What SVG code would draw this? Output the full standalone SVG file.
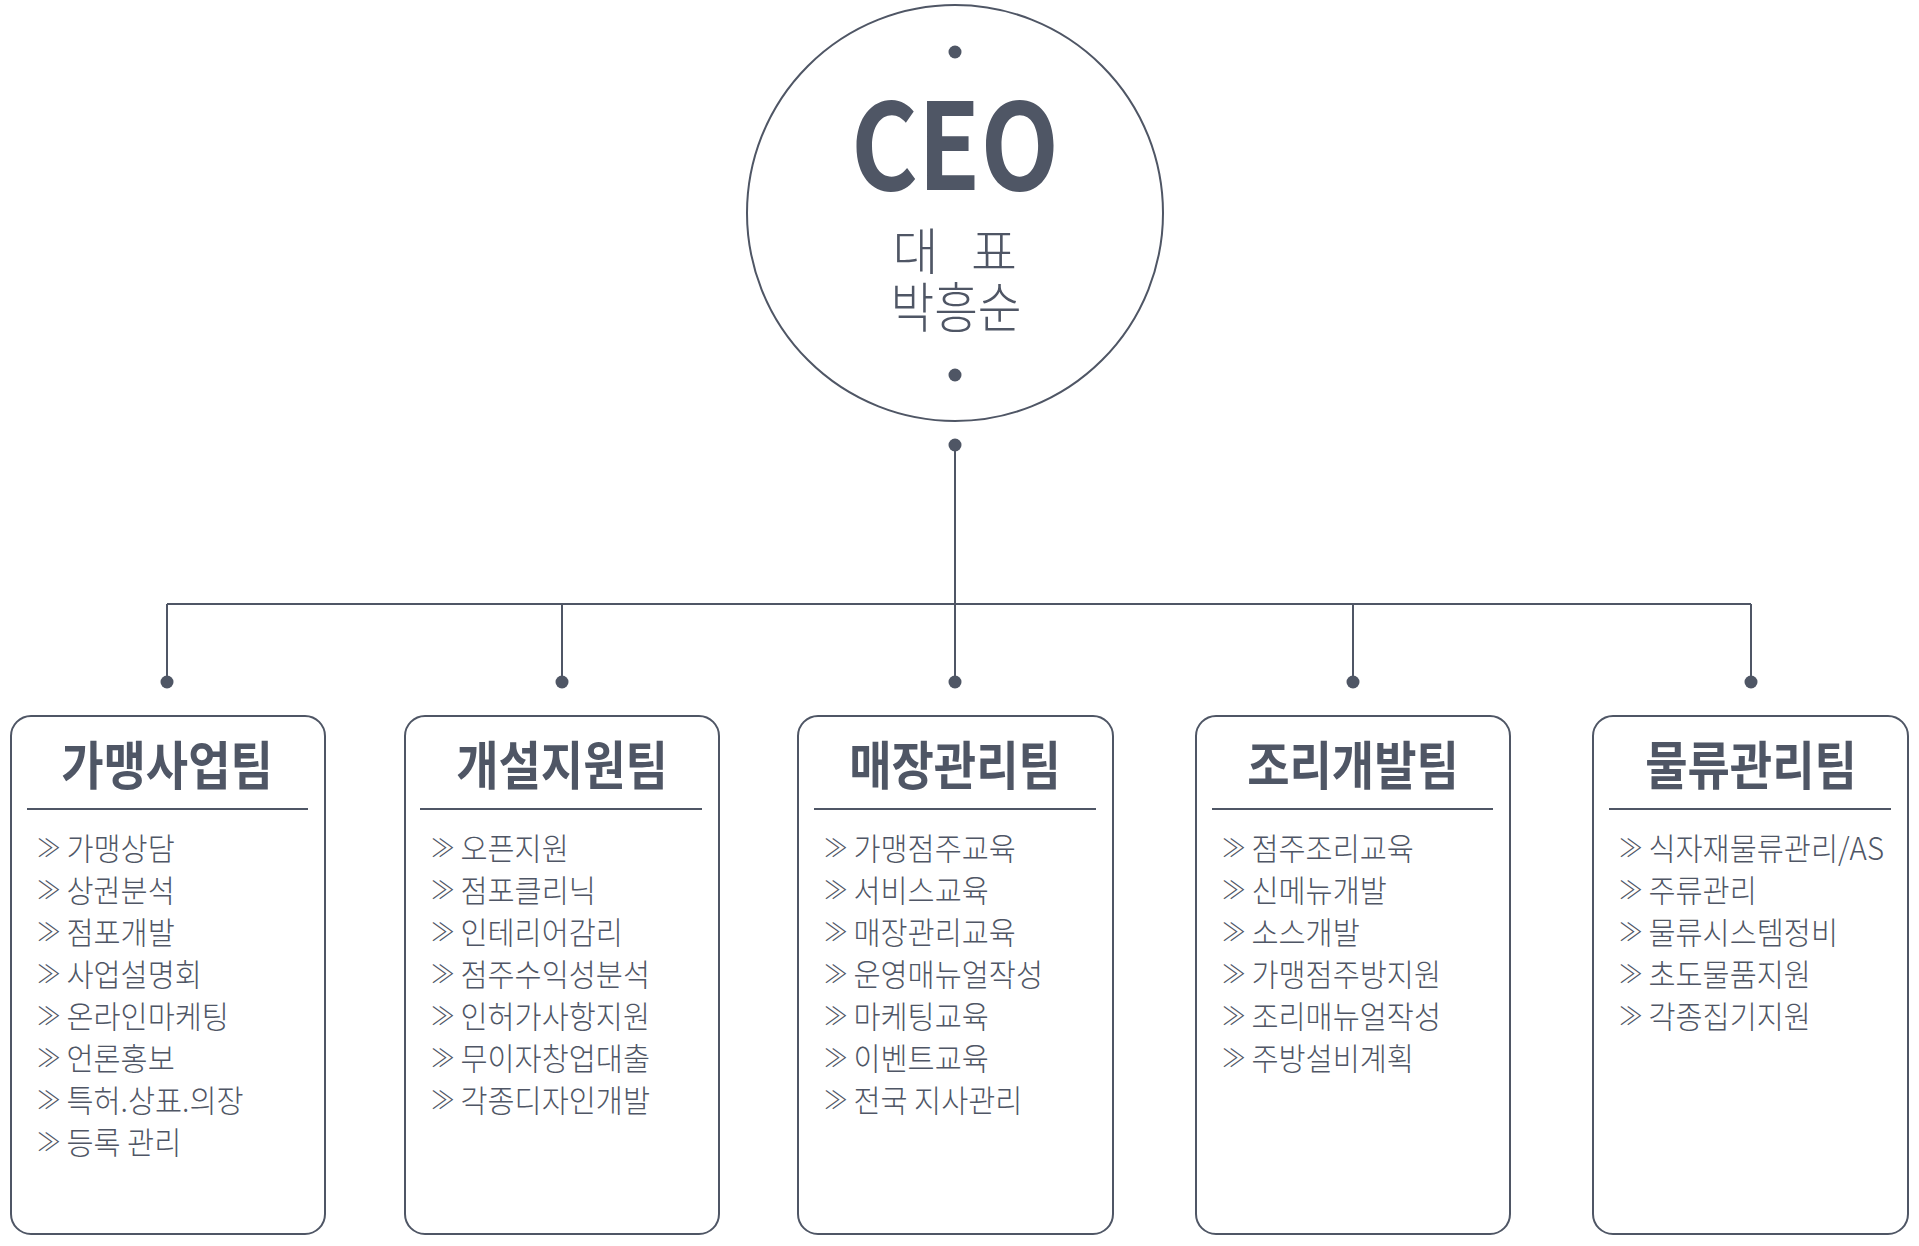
<svg xmlns="http://www.w3.org/2000/svg" width="1919" height="1246" viewBox="0 0 1919 1246">
<style>
.ln{fill:none;stroke:#4f5665;stroke-width:2}
.dot{fill:#4f5665}
.box{fill:#fff;stroke:#4f5665;stroke-width:2}
.title{font-family:"Noto Sans CJK KR","Noto Sans",sans-serif;font-weight:700;font-size:52px;fill:#4f5665;text-anchor:middle}
.item{font-family:"Noto Sans CJK KR","Noto Sans",sans-serif;font-weight:300;font-size:31px;fill:#4f5665}
.ch{font-size:25px}
.ceo{font-family:"Noto Sans CJK KR","Noto Sans",sans-serif;font-weight:700;font-size:120px;fill:#4f5665;text-anchor:middle}
.sub{font-family:"Noto Sans CJK KR","Noto Sans",sans-serif;font-weight:300;fill:#4f5665;text-anchor:middle}
</style>
<rect width="1919" height="1246" fill="#fff"/>
<g id="connectors">
<line class="ln" x1="955" y1="445" x2="955" y2="682"/>
<line class="ln" x1="167" y1="604" x2="1751" y2="604"/>
<line class="ln" x1="167" y1="604" x2="167" y2="682"/>
<line class="ln" x1="562" y1="604" x2="562" y2="682"/>
<line class="ln" x1="1353" y1="604" x2="1353" y2="682"/>
<line class="ln" x1="1751" y1="604" x2="1751" y2="682"/>
<circle class="dot" cx="955" cy="445" r="6.5"/>
<circle class="dot" cx="167" cy="682" r="6.5"/>
<circle class="dot" cx="562" cy="682" r="6.5"/>
<circle class="dot" cx="955" cy="682" r="6.5"/>
<circle class="dot" cx="1353" cy="682" r="6.5"/>
<circle class="dot" cx="1751" cy="682" r="6.5"/>
</g>
<g id="ceo">
<circle cx="955" cy="213" r="208" fill="#fff" stroke="#4f5665" stroke-width="2"/>
<circle class="dot" cx="955" cy="52" r="6.5"/>
<circle class="dot" cx="955" cy="375" r="6.5"/>
<text class="ceo" transform="translate(955,190) scale(0.85,1)" x="0" y="0">CEO</text>
<text class="sub" font-size="50" x="921" y="270"><tspan x="921">대</tspan> <tspan x="994">표</tspan></text>
<text class="sub" font-size="54" transform="translate(956,328) scale(0.88,1)" x="0" y="0">박흥순</text>
</g>
<g id="team1">
<rect class="box" x="11" y="716" width="314" height="518" rx="20"/>
<text class="title" transform="translate(167,785) scale(0.885,1)" x="0" y="0">가맹사업팀</text>
<line class="ln" x1="27" y1="809" x2="308" y2="809"/>
<text class="item" transform="translate(37,860) scale(0.95,1)"><tspan class="ch" x="0" y="-3">≫</tspan><tspan dx="6" y="0">가맹상담</tspan><tspan class="ch" x="0" y="39">≫</tspan><tspan dx="6" y="42">상권분석</tspan><tspan class="ch" x="0" y="81">≫</tspan><tspan dx="6" y="84">점포개발</tspan><tspan class="ch" x="0" y="123">≫</tspan><tspan dx="6" y="126">사업설명회</tspan><tspan class="ch" x="0" y="165">≫</tspan><tspan dx="6" y="168">온라인마케팅</tspan><tspan class="ch" x="0" y="207">≫</tspan><tspan dx="6" y="210">언론홍보</tspan><tspan class="ch" x="0" y="249">≫</tspan><tspan dx="6" y="252">특허.상표.의장</tspan><tspan class="ch" x="0" y="291">≫</tspan><tspan dx="6" y="294">등록 관리</tspan></text>
</g>
<g id="team2">
<rect class="box" x="405" y="716" width="314" height="518" rx="20"/>
<text class="title" transform="translate(562,785) scale(0.885,1)" x="0" y="0">개설지원팀</text>
<line class="ln" x1="420" y1="809" x2="702" y2="809"/>
<text class="item" transform="translate(431,860) scale(0.95,1)"><tspan class="ch" x="0" y="-3">≫</tspan><tspan dx="6" y="0">오픈지원</tspan><tspan class="ch" x="0" y="39">≫</tspan><tspan dx="6" y="42">점포클리닉</tspan><tspan class="ch" x="0" y="81">≫</tspan><tspan dx="6" y="84">인테리어감리</tspan><tspan class="ch" x="0" y="123">≫</tspan><tspan dx="6" y="126">점주수익성분석</tspan><tspan class="ch" x="0" y="165">≫</tspan><tspan dx="6" y="168">인허가사항지원</tspan><tspan class="ch" x="0" y="207">≫</tspan><tspan dx="6" y="210">무이자창업대출</tspan><tspan class="ch" x="0" y="249">≫</tspan><tspan dx="6" y="252">각종디자인개발</tspan></text>
</g>
<g id="team3">
<rect class="box" x="798" y="716" width="315" height="518" rx="20"/>
<text class="title" transform="translate(955,785) scale(0.885,1)" x="0" y="0">매장관리팀</text>
<line class="ln" x1="814" y1="809" x2="1096" y2="809"/>
<text class="item" transform="translate(824,860) scale(0.95,1)"><tspan class="ch" x="0" y="-3">≫</tspan><tspan dx="6" y="0">가맹점주교육</tspan><tspan class="ch" x="0" y="39">≫</tspan><tspan dx="6" y="42">서비스교육</tspan><tspan class="ch" x="0" y="81">≫</tspan><tspan dx="6" y="84">매장관리교육</tspan><tspan class="ch" x="0" y="123">≫</tspan><tspan dx="6" y="126">운영매뉴얼작성</tspan><tspan class="ch" x="0" y="165">≫</tspan><tspan dx="6" y="168">마케팅교육</tspan><tspan class="ch" x="0" y="207">≫</tspan><tspan dx="6" y="210">이벤트교육</tspan><tspan class="ch" x="0" y="249">≫</tspan><tspan dx="6" y="252">전국 지사관리</tspan></text>
</g>
<g id="team4">
<rect class="box" x="1196" y="716" width="314" height="518" rx="20"/>
<text class="title" transform="translate(1353,785) scale(0.885,1)" x="0" y="0">조리개발팀</text>
<line class="ln" x1="1212" y1="809" x2="1493" y2="809"/>
<text class="item" transform="translate(1222,860) scale(0.95,1)"><tspan class="ch" x="0" y="-3">≫</tspan><tspan dx="6" y="0">점주조리교육</tspan><tspan class="ch" x="0" y="39">≫</tspan><tspan dx="6" y="42">신메뉴개발</tspan><tspan class="ch" x="0" y="81">≫</tspan><tspan dx="6" y="84">소스개발</tspan><tspan class="ch" x="0" y="123">≫</tspan><tspan dx="6" y="126">가맹점주방지원</tspan><tspan class="ch" x="0" y="165">≫</tspan><tspan dx="6" y="168">조리매뉴얼작성</tspan><tspan class="ch" x="0" y="207">≫</tspan><tspan dx="6" y="210">주방설비계획</tspan></text>
</g>
<g id="team5">
<rect class="box" x="1593" y="716" width="315" height="518" rx="20"/>
<text class="title" transform="translate(1751,785) scale(0.885,1)" x="0" y="0">물류관리팀</text>
<line class="ln" x1="1609" y1="809" x2="1891" y2="809"/>
<text class="item" transform="translate(1619,860) scale(0.95,1)"><tspan class="ch" x="0" y="-3">≫</tspan><tspan dx="6" y="0">식자재물류관리/AS</tspan><tspan class="ch" x="0" y="39">≫</tspan><tspan dx="6" y="42">주류관리</tspan><tspan class="ch" x="0" y="81">≫</tspan><tspan dx="6" y="84">물류시스템정비</tspan><tspan class="ch" x="0" y="123">≫</tspan><tspan dx="6" y="126">초도물품지원</tspan><tspan class="ch" x="0" y="165">≫</tspan><tspan dx="6" y="168">각종집기지원</tspan></text>
</g>
</svg>
